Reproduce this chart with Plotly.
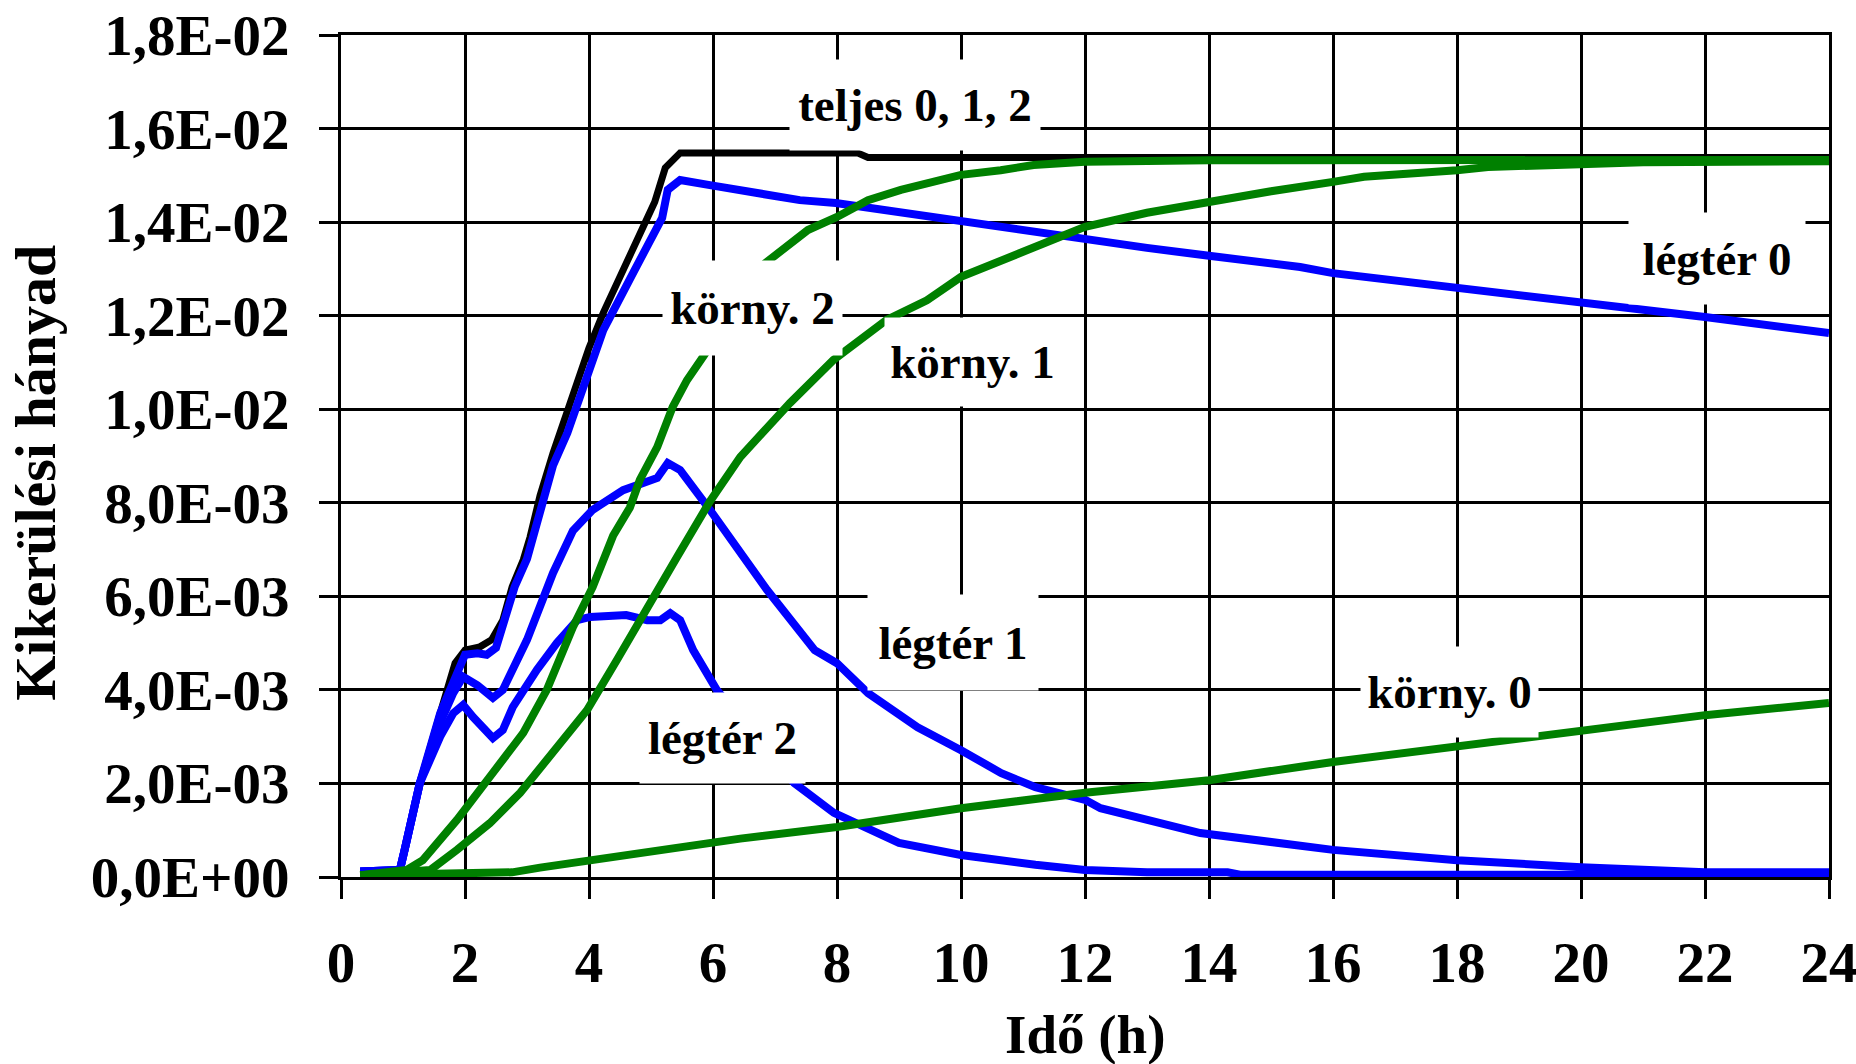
import plotly.graph_objects as go

# ---------------- data ----------------
x_ticks = [0, 2, 4, 6, 8, 10, 12, 14, 16, 18, 20, 22, 24]
y_tickvals = [0, 0.002, 0.004, 0.006, 0.008, 0.010, 0.012, 0.014, 0.016, 0.018]
y_ticktext = ["0,0E+00", "2,0E-03", "4,0E-03", "6,0E-03", "8,0E-03",
              "1,0E-02", "1,2E-02", "1,4E-02", "1,6E-02", "1,8E-02"]

# teljes 0, 1, 2 (black)
t_teljes = [0.31, 0.95, 1.03, 1.27, 1.6, 1.71, 1.84, 2.0, 2.24, 2.43, 2.61, 2.76, 2.94, 3.05,
            3.21, 3.42, 3.74, 4.0, 4.23, 4.58, 5.06, 5.23, 5.47, 8.33, 8.5, 24.0]
teljes = [0.00012, 0.00015, 0.0006, 0.002, 0.0035, 0.0040, 0.00457, 0.00485, 0.00492, 0.00507,
          0.00549, 0.0062, 0.00678, 0.00727, 0.00815, 0.00906, 0.01035, 0.01131, 0.01206,
          0.01304, 0.01443, 0.01516, 0.01548, 0.01548, 0.01538, 0.01538]

# légtér 0 (blue)
t_legter0 = [0.31, 0.95, 1.03, 1.27, 1.6, 1.75, 1.9, 2.0, 2.2, 2.35, 2.5, 2.65, 2.8, 3.0, 3.2,
             3.42, 3.65, 3.94, 4.23, 4.71, 5.0, 5.18, 5.27, 5.47, 5.95, 6.44, 7.4, 7.98, 8.74,
             9.55, 9.98, 10.9, 12.0, 13.0, 14.0, 15.47, 16.0, 18.0, 20.0, 22.0, 24.0]
legter0 = [0.00012, 0.00015, 0.0006, 0.002, 0.0035, 0.0040, 0.0045, 0.00475, 0.00478, 0.00475,
           0.0049, 0.0056, 0.0062, 0.0068, 0.0077, 0.0088, 0.00949, 0.01062, 0.01169, 0.01291,
           0.0136, 0.01409, 0.01469, 0.0149, 0.01479, 0.01469, 0.01447, 0.01441, 0.01426,
           0.01411, 0.01404, 0.01387, 0.01362, 0.01345, 0.01328, 0.01304, 0.01291, 0.01261,
           0.01227, 0.01197, 0.01163]

# légtér 1 (blue)
t_legter1 = [0.31, 0.95, 1.03, 1.27, 1.6, 1.81, 1.97, 2.2, 2.45, 2.61, 3.0, 3.42, 3.74, 4.06,
             4.55, 5.1, 5.27, 5.47, 5.95, 6.23, 6.87, 7.64, 8.0, 8.5, 9.3, 10.0, 10.65, 11.2,
             12.0, 12.25, 13.86, 16.0, 18.0, 20.0, 22.0, 24.0]
legter1 = [0.00012, 0.00015, 0.0006, 0.002, 0.0033, 0.00393, 0.00428, 0.0041, 0.00383, 0.0040,
           0.00507, 0.0065, 0.0074, 0.00785, 0.00827, 0.00853, 0.00885, 0.0087, 0.00785,
           0.00735, 0.00614, 0.00485, 0.00457, 0.00393, 0.0032, 0.00271, 0.00222, 0.00192,
           0.00165, 0.00147, 0.00094, 0.00058, 0.00036, 0.00021, 0.0001, 0.0001]

# légtér 2 (blue)
t_legter2 = [0.31, 0.95, 1.03, 1.27, 1.6, 1.81, 1.97, 2.13, 2.45, 2.61, 2.77, 3.16, 3.48, 3.81,
             4.02, 4.45, 4.6, 4.94, 5.15, 5.31, 5.47, 5.68, 5.9, 6.06, 7.31, 7.95, 9.0, 10.0,
             11.2, 12.0, 13.0, 14.3, 14.5, 24.0]
legter2 = [0.00012, 0.00015, 0.0006, 0.002, 0.003, 0.0035, 0.00368, 0.00342, 0.00297, 0.00314,
           0.00363, 0.00443, 0.005, 0.00549, 0.00556, 0.00556, 0.0056, 0.00549, 0.00549,
           0.00564, 0.00549, 0.00485, 0.00436, 0.004, 0.00201, 0.00137, 0.00073, 0.00047,
           0.00026, 0.00015, 0.0001, 0.0001, 0.00005, 0.00005]

# körny. 2 (green)
t_korny2 = [0.31, 1.06, 1.32, 1.87, 2.4, 2.94, 3.32, 3.74, 4.06, 4.39, 4.66, 4.82, 5.1, 5.35,
            5.58, 5.84, 6.84, 7.53, 8.0, 8.5, 9.03, 10.0, 10.64, 11.17, 12.0, 14.0, 24.0]
korny2 = [0.00004, 0.00015, 0.00036, 0.00122, 0.00214, 0.00308, 0.004, 0.00534, 0.0062, 0.0073,
          0.0079, 0.00849, 0.00919, 0.01005, 0.01062, 0.01112, 0.01312, 0.01383, 0.01411,
          0.01447, 0.01469, 0.01501, 0.01511, 0.01522, 0.01529, 0.01532, 0.01533]

# körny. 1 (green)
t_korny1 = [0.31, 1.3, 1.44, 1.87, 2.4, 2.89, 3.42, 3.97, 4.45, 4.94, 5.42, 5.95, 6.44, 7.24,
            7.94, 8.8, 9.45, 10.0, 11.17, 12.0, 13.0, 14.0, 15.0, 16.0, 16.5, 18.0, 18.5,
            19.6, 21.0, 24.0]
korny1 = [0.00004, 0.0001, 0.00015, 0.00058, 0.00115, 0.0018, 0.00265, 0.00357, 0.00464,
          0.00571, 0.00684, 0.00803, 0.00898, 0.01013, 0.01105, 0.01191, 0.01233, 0.01283,
          0.01347, 0.0139, 0.0142, 0.01445, 0.01466, 0.01486, 0.01497, 0.01511, 0.01518,
          0.01522, 0.01528, 0.0153]

# körny. 0 (green)
t_korny0 = [0.31, 2.76, 3.21, 4.02, 4.82, 5.63, 6.44, 8.0, 10.0, 12.0, 14.0, 16.0, 18.0, 20.0,
            22.0, 24.0]
korny0 = [0.00004, 0.0001, 0.0002, 0.00036, 0.0005, 0.00064, 0.00082, 0.00107, 0.00147, 0.0018,
          0.00207, 0.00246, 0.00278, 0.00314, 0.00346, 0.00372]

labels = ["teljes 0, 1, 2", "körny. 2", "körny. 1", "légtér 0",
          "légtér 1", "légtér 2", "körny. 0"]
label_x = [9.26, 6.64, 10.18, 22.19, 9.87, 6.15, 17.88]
label_y = [0.0165, 0.01216, 0.0110, 0.01322, 0.00501, 0.00297, 0.00395]

# ---------------- figure ----------------
FONT = "Liberation Serif, Times New Roman, serif"
BLUE = "#0000FF"
GREEN = "#008000"

fig = go.Figure()
fig.add_trace(go.Scatter(x=t_teljes, y=teljes, mode="lines",
                         line=dict(color="black", width=7), name="teljes 0, 1, 2"))
for tx, ty, nm in [(t_legter0, legter0, "légtér 0"), (t_legter1, legter1, "légtér 1"),
                   (t_legter2, legter2, "légtér 2")]:
    fig.add_trace(go.Scatter(x=tx, y=ty, mode="lines", line=dict(color=BLUE, width=8), name=nm))
for tx, ty, nm in [(t_korny2, korny2, "körny. 2"), (t_korny1, korny1, "körny. 1"),
                   (t_korny0, korny0, "körny. 0")]:
    fig.add_trace(go.Scatter(x=tx, y=ty, mode="lines", line=dict(color=GREEN, width=8), name=nm))

box_w = [250, 179, 175, 176, 170, 165, 177]
box_h = [90, 94, 88, 91, 95, 90, 90]
for txt, ax, ay, w, h in zip(labels, label_x, label_y, box_w, box_h):
    fig.add_annotation(x=ax, y=ay, xref="x", yref="y", text=txt, showarrow=False,
                       xanchor="center", yanchor="middle", width=w, height=h,
                       bgcolor="white", borderpad=0,
                       font=dict(family=FONT, size=47, color="black", weight="bold"))

# axis titles as annotations
fig.add_annotation(x=0.5, y=-0.1865, xref="paper", yref="paper", text="Idő (h)",
                   showarrow=False, xanchor="center", yanchor="middle",
                   font=dict(family=FONT, size=55, color="black", weight="bold"))
fig.add_annotation(x=-0.205, y=0.48, xref="paper", yref="paper", text="Kikerülési hányad",
                   textangle=-90, showarrow=False, xanchor="center", yanchor="middle",
                   font=dict(family=FONT, size=58, color="black", weight="bold"))

axis_common = dict(showgrid=True, gridcolor="black", gridwidth=3, zeroline=False,
                   showline=True, linecolor="black", linewidth=3, mirror=True,
                   ticks="outside", ticklen=19, tickwidth=3, tickcolor="black",
                   automargin=False, ticklabeloverflow="allow",
                   tickfont=dict(family=FONT, size=57, color="black", weight="bold"))

fig.update_xaxes(range=[0, 24], tickvals=x_ticks, ticktext=[str(v) for v in x_ticks],
                 ticklabelstandoff=15, **axis_common)
fig.update_yaxes(range=[0, 0.018], tickvals=y_tickvals, ticktext=y_ticktext,
                 ticklabelstandoff=18, **axis_common)

fig.update_layout(width=1856, height=1064, showlegend=False,
                  margin=dict(l=341, r=27, t=35, b=187, pad=0, autoexpand=False),
                  paper_bgcolor="white", plot_bgcolor="white",
                  font=dict(family=FONT, color="black"))

fig.write_html("out.html", config={"displayModeBar": False},
               post_script="document.body.style.margin='0px';")
